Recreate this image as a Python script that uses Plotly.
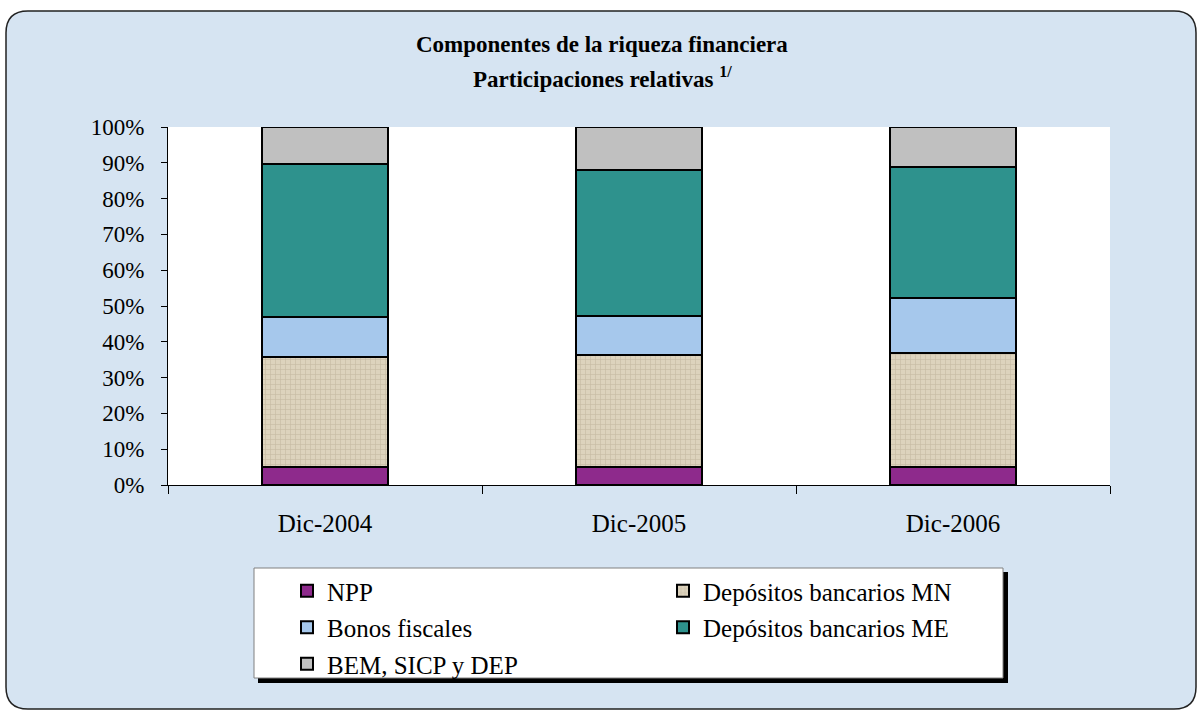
import plotly.graph_objects as go

categories = ["Dic-2004", "Dic-2005", "Dic-2006"]
npp = [5.0, 5.0, 4.9]
dep_mn = [30.8, 31.3, 32.0]
bonos = [11.1, 10.9, 15.3]
dep_me = [42.8, 40.8, 36.6]
bem = [10.3, 12.0, 11.2]

series = [
    ("NPP", npp, "#8e2a8c", None, "legend", "g1"),
    ("Depósitos bancarios MN", dep_mn, "#ddd3bd", "+", "legend2", "g2"),
    ("Bonos fiscales", bonos, "#a6c8ec", None, "legend", "g3"),
    ("Depósitos bancarios ME", dep_me, "#2e928d", None, "legend2", "g4"),
    ("BEM, SICP y DEP", bem, "#c0c0c0", None, "legend", "g5"),
]

W, H = 1198, 711
L, R, T, B = 168, 1110, 127, 485
PW, PH = R - L, B - T


def px(x):
    return (x - L) / PW


def py(y):
    return (B - y) / PH


FONT = "Liberation Serif"

fig = go.Figure()
for name, vals, color, pat, leg, grp in series:
    marker = dict(color=color, line=dict(color="black", width=2))
    if pat:
        marker["pattern"] = dict(shape=pat, fgcolor="#b9ad95", bgcolor=color,
                                 size=5, solidity=0.25, fgopacity=0.6)
    fig.add_trace(go.Bar(x=categories, y=vals, name=name, marker=marker,
                         width=0.4, legend=leg, legendgroup=grp))

# rounded background frame
x0, y0, x1, y1, r = 6, 11, 1196, 709, 22
rx, ry = r / PW, r / PH
X0, X1, Y0, Y1 = px(x0), px(x1), py(y0), py(y1)
path = (f"M{X0+rx},{Y0} L{X1-rx},{Y0} Q{X1},{Y0} {X1},{Y0-ry} "
        f"L{X1},{Y1+ry} Q{X1},{Y1} {X1-rx},{Y1} L{X0+rx},{Y1} "
        f"Q{X0},{Y1} {X0},{Y1+ry} L{X0},{Y0-ry} Q{X0},{Y0} {X0+rx},{Y0} Z")
shapes = [
    dict(type="path", xref="paper", yref="paper", path=path,
         fillcolor="#d6e4f2", line=dict(color="#222222", width=1.5), layer="below"),
    dict(type="rect", xref="paper", yref="paper", x0=0, x1=1, y0=0, y1=1,
         fillcolor="white", line=dict(width=0), layer="below"),
    # legend shadow and box
    dict(type="rect", xref="paper", yref="paper", x0=px(258), x1=px(1008),
         y0=py(683), y1=py(572), fillcolor="black", line=dict(width=0), layer="below"),
    dict(type="rect", xref="paper", yref="paper", x0=px(254), x1=px(1003),
         y0=py(678), y1=py(568), fillcolor="white",
         line=dict(color="#808080", width=1), layer="below"),
]

leg_common = dict(bgcolor="rgba(0,0,0,0)", font=dict(family=FONT, size=25, color="black"),
                  orientation="v", traceorder="grouped", tracegroupgap=1,
                  xanchor="left", yanchor="top")

fig.update_layout(
    width=W, height=H,
    margin=dict(l=L, r=W - R, t=T, b=H - B),
    paper_bgcolor="white", plot_bgcolor="white",
    barmode="stack", bargap=0.6,
    shapes=shapes,
    font=dict(family=FONT, size=23, color="black"),
    legend=dict(x=px(287), y=py(568), **leg_common),
    legend2=dict(x=px(663), y=py(568), **leg_common),
    annotations=[
        dict(text="<b>Componentes de la riqueza financiera</b>", xref="paper", yref="paper",
             x=px(602), y=py(45), showarrow=False, xanchor="center", yanchor="middle",
             font=dict(family=FONT, size=23, color="black")),
        dict(text="<b>Participaciones relativas <sup>1/</sup></b>", xref="paper", yref="paper",
             x=px(602), y=py(78), showarrow=False, xanchor="center", yanchor="middle",
             font=dict(family=FONT, size=23, color="black")),
    ],
    xaxis=dict(type="category", showline=True, linecolor="black", linewidth=1,
               ticks="outside", ticklen=8, tickcolor="black", tickson="boundaries",
               tickfont=dict(family=FONT, size=25, color="black"),
               ticklabelstandoff=16, showgrid=False, zeroline=False),
    yaxis=dict(range=[0, 100], tickvals=list(range(0, 101, 10)),
               ticktext=[f"{v}%" for v in range(0, 101, 10)],
               showline=True, linecolor="black", linewidth=1,
               ticks="outside", ticklen=6, tickcolor="black",
               tickfont=dict(family=FONT, size=23, color="black"),
               ticklabelstandoff=12, showgrid=False, zeroline=False),
)

fig.write_html("out.html", config={"displayModeBar": False},
               post_script="document.body.style.margin='0';")
